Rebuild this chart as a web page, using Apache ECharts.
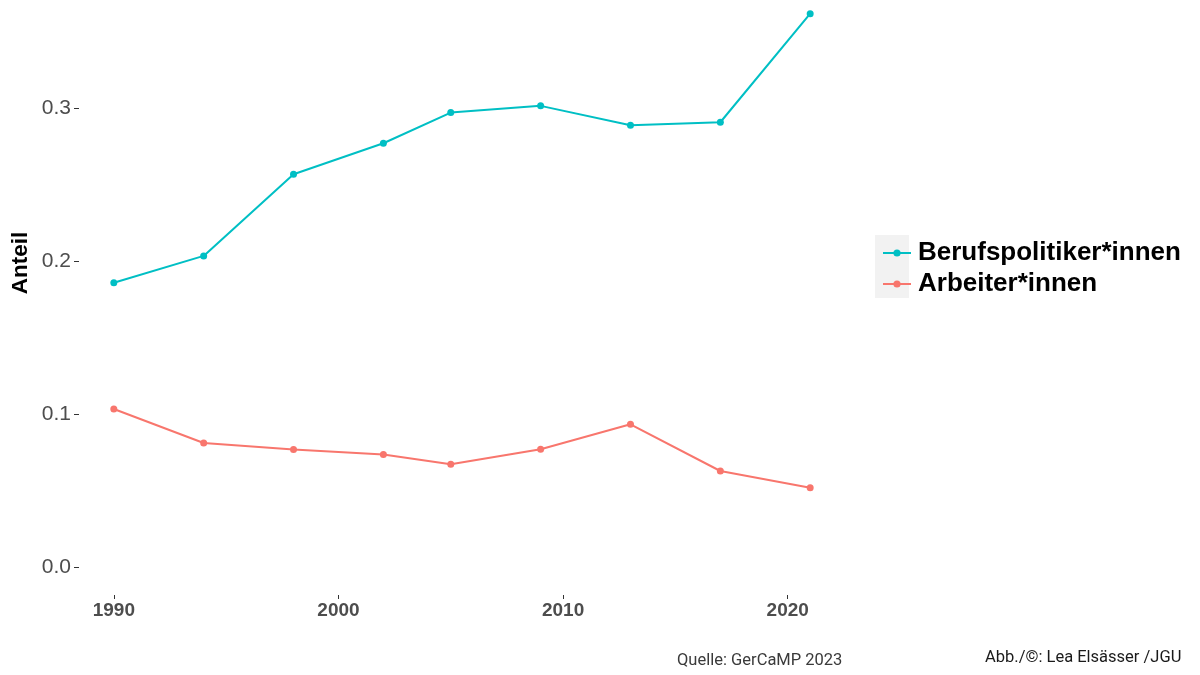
<!DOCTYPE html>
<html>
<head>
<meta charset="utf-8">
<script src="https://cdn.jsdelivr.net/npm/echarts@6/dist/echarts.min.js"></script>
<style>html,body{margin:0;padding:0;background:#fff}#c{width:1200px;height:675px}</style>
</head>
<body>
<div id="c"></div>
<script>
const years = [1990, 1994, 1998, 2002, 2005, 2009, 2013, 2017, 2021];
const berufspolitiker = [0.186, 0.2035, 0.2568, 0.2771, 0.2971, 0.3015, 0.2889, 0.2908, 0.3617];
const arbeiter = [0.1035, 0.0813, 0.0770, 0.0737, 0.0674, 0.0772, 0.0935, 0.0630, 0.0521];
const xTicks = [1990, 2000, 2010, 2020];
const yTicks = [0, 0.1, 0.2, 0.3];
const seriesNames = ['Berufspolitiker*innen', 'Arbeiter*innen'];
const yTitle = 'Anteil';
const sourceText = 'Quelle: GerCaMP 2023';
const creditText = 'Abb./©: Lea Elsässer /JGU';

const chart = echarts.init(document.getElementById('c'));
const pair = (xs, ys) => xs.map((x, i) => [x, ys[i]]);
chart.setOption({
  animation: false,
  backgroundColor: '#ffffff',
  grid: { left: 79, right: 355, top: 1, bottom: 80, containLabel: false },
  xAxis: {
    type: 'value', min: 1988.45, max: 2022.55,
    splitLine: { show: false },
    axisLine: { show: false, onZero: false },
    axisTick: { show: true, customValues: xTicks, length: 4, lineStyle: { color: '#333', width: 1 } },
    axisLabel: { customValues: xTicks, color: '#4d4d4d', fontSize: 19, fontWeight: 'bold', fontFamily: 'Liberation Sans', margin: 6,
      formatter: v => String(v) }
  },
  yAxis: {
    type: 'value', min: -0.018, max: 0.37,
    splitLine: { show: false },
    axisLine: { show: false, onZero: false },
    axisTick: { show: true, customValues: yTicks, length: 5, lineStyle: { color: '#333', width: 1 } },
    axisLabel: { customValues: yTicks, color: '#4d4d4d', fontSize: 21, fontFamily: 'Liberation Sans', margin: 8,
      formatter: v => v.toFixed(1) }
  },
  legend: {
    orient: 'vertical', left: 877, top: 235, itemGap: 5,
    itemWidth: 28, itemHeight: 9,
    textStyle: { fontSize: 26, fontWeight: 'bold', color: '#000', fontFamily: 'Liberation Sans', padding: [0, 0, 0, 2] },
    data: seriesNames
  },
  graphic: [
    { type: 'rect', z: -1, shape: { x: 875, y: 235, width: 34, height: 63 }, style: { fill: '#f2f2f2' } },
    { type: 'text', x: 21, y: 263, rotation: Math.PI / 2,
      style: { text: yTitle, fontSize: 22.5, fontWeight: 'bold', fill: '#000', fontFamily: 'Liberation Sans', align: 'center', verticalAlign: 'middle' } },
    { type: 'text', x: 677, y: 661,
      style: { text: sourceText, fontSize: 16.5, fill: '#3a3a3a', fontFamily: 'Roboto', align: 'left', verticalAlign: 'middle' } },
    { type: 'text', x: 985, y: 658,
      style: { text: creditText, fontSize: 16.5, fill: '#1a1a1a', fontFamily: 'Roboto', align: 'left', verticalAlign: 'middle' } }
  ],
  series: [
    { name: seriesNames[0], type: 'line', data: pair(years, berufspolitiker), color: '#00BFC4',
      symbol: 'circle', symbolSize: 7, lineStyle: { width: 2 } },
    { name: seriesNames[1], type: 'line', data: pair(years, arbeiter), color: '#F8766D',
      symbol: 'circle', symbolSize: 7, lineStyle: { width: 2 } }
  ]
});
</script>
</body>
</html>
